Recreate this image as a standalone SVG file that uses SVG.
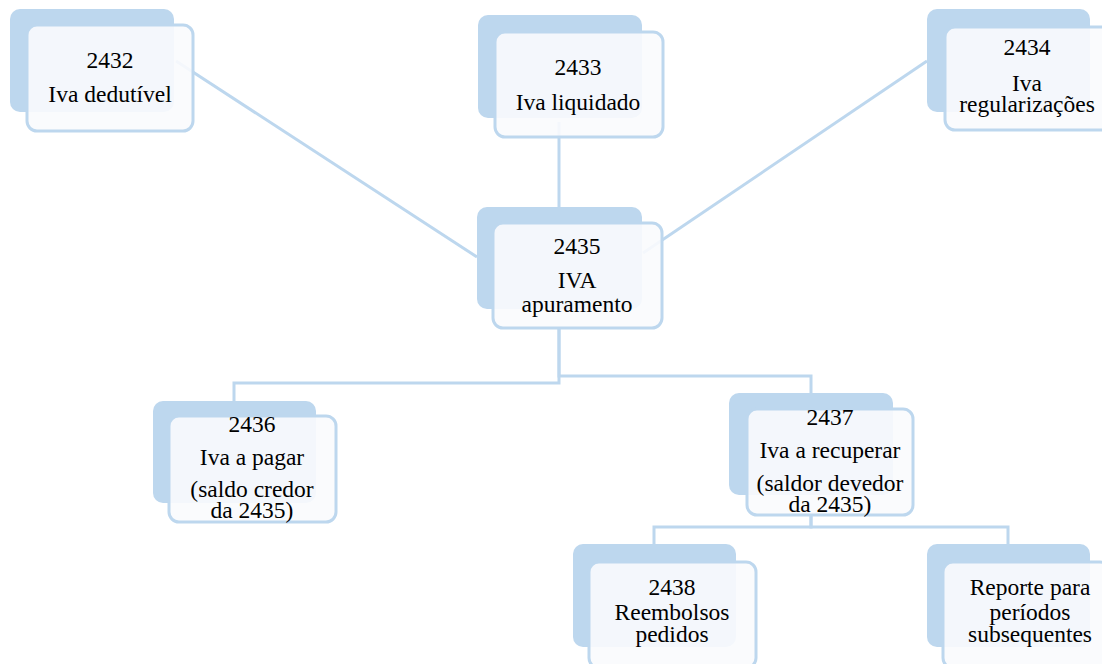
<svg xmlns="http://www.w3.org/2000/svg" width="1102" height="664" viewBox="0 0 1102 664">
<style>
.back{fill:#bdd7ee;}
.front{fill:#f9fbfd;fill-opacity:0.9;stroke:#bdd7ee;stroke-width:3;}
.conn{fill:none;stroke:#bdd7ee;stroke-width:3;}
.t{font-family:'Liberation Serif','Times New Roman',serif;font-size:23.5px;fill:#000;text-anchor:middle;}
</style>
<rect width="1102" height="664" fill="#ffffff"/>
<g id="connectors">
<line class="conn" x1="176" y1="61" x2="477" y2="257"/>
<line class="conn" x1="927" y1="61" x2="643" y2="253"/>
<line class="conn" x1="559" y1="122" x2="559" y2="208"/>
<path class="conn" d="M559,328 V383 H234 V402"/>
<path class="conn" d="M559,328 V376 H811 V394"/>
<path class="conn" d="M811,515 V527 H654 V545"/>
<path class="conn" d="M811,515 V527 H1008 V545"/>
</g>
<g id="n2432">
<rect class="back" x="10" y="9" width="164" height="103" rx="10"/>
<rect class="front" x="27" y="25" width="166" height="106" rx="10"/>
<text class="t" x="110" y="68">2432</text>
<text class="t" x="110" y="102">Iva dedutível</text>
</g>
<g id="n2433">
<rect class="back" x="478" y="15" width="164" height="103" rx="10"/>
<rect class="front" x="495" y="32" width="168" height="105" rx="10"/>
<text class="t" x="578" y="75">2433</text>
<text class="t" x="578" y="110">Iva liquidado</text>
</g>
<g id="n2434">
<rect class="back" x="927" y="9" width="163" height="103" rx="10"/>
<rect class="front" x="945" y="27" width="167" height="103" rx="10"/>
<text class="t" x="1027" y="55">2434</text>
<text class="t" x="1027" y="91">Iva</text>
<text class="t" x="1027" y="112">regularizações</text>
</g>
<g id="n2435">
<rect class="back" x="477" y="207" width="165" height="102" rx="10"/>
<rect class="front" x="493" y="223" width="169" height="105" rx="10"/>
<text class="t" x="577" y="254">2435</text>
<text class="t" x="577" y="288">IVA</text>
<text class="t" x="577" y="312">apuramento</text>
</g>
<g id="n2436">
<rect class="back" x="153" y="401" width="163" height="102" rx="10"/>
<rect class="front" x="169" y="416" width="167" height="106" rx="10"/>
<text class="t" x="252" y="432">2436</text>
<text class="t" x="252" y="465">Iva a pagar</text>
<text class="t" x="252" y="497">(saldo credor</text>
<text class="t" x="252" y="518">da 2435)</text>
</g>
<g id="n2437">
<rect class="back" x="729" y="393" width="164" height="102" rx="10"/>
<rect class="front" x="747" y="409" width="166" height="106" rx="10"/>
<text class="t" x="830" y="425">2437</text>
<text class="t" x="830" y="458">Iva a recuperar</text>
<text class="t" x="830" y="491">(saldor devedor</text>
<text class="t" x="830" y="512">da 2435)</text>
</g>
<g id="n2438">
<rect class="back" x="573" y="544" width="163" height="103" rx="10"/>
<rect class="front" x="589" y="562" width="167" height="106" rx="10"/>
<text class="t" x="672" y="595">2438</text>
<text class="t" x="672" y="620">Reembolsos</text>
<text class="t" x="672" y="642">pedidos</text>
</g>
<g id="nReporte">
<rect class="back" x="927" y="544" width="163" height="103" rx="10"/>
<rect class="front" x="943" y="562" width="167" height="106" rx="10"/>
<text class="t" x="1030" y="595">Reporte para</text>
<text class="t" x="1030" y="620">períodos</text>
<text class="t" x="1030" y="642">subsequentes</text>
</g>
</svg>
